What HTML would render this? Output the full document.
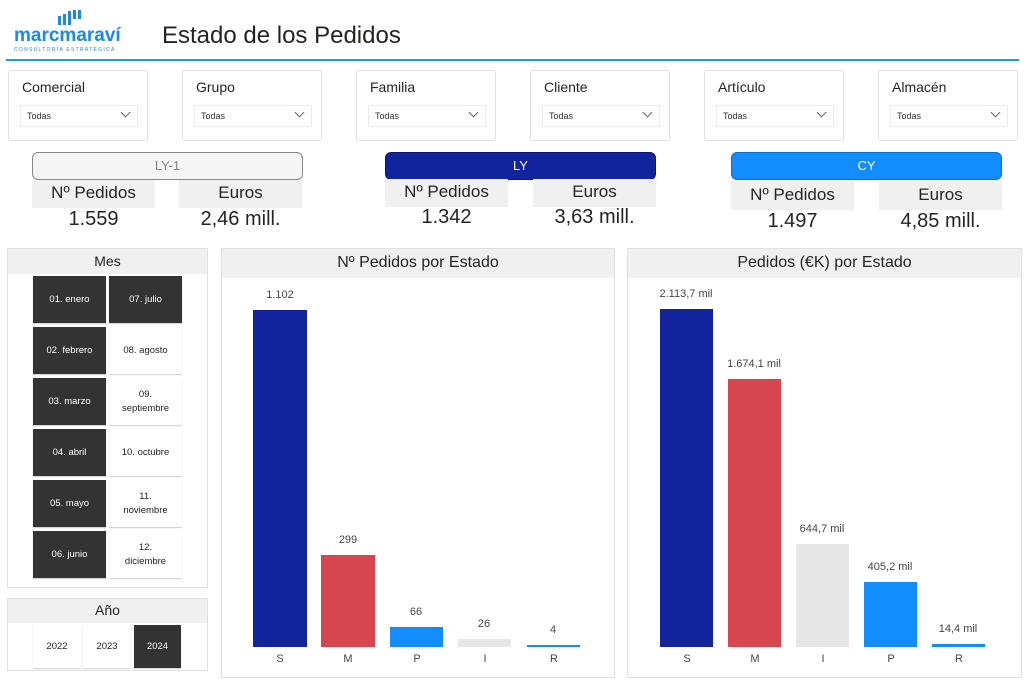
<!DOCTYPE html><html><head><meta charset="utf-8"><style>
*{margin:0;padding:0;box-sizing:border-box}
body{width:1024px;height:680px;background:#fff;position:relative;font-family:"Segoe UI","Liberation Sans","DejaVu Sans",sans-serif;color:#252423;overflow:hidden}
.a{position:absolute}
.sl{position:absolute;top:70px;width:140px;height:71px;border:1px solid #e0e0e0;border-radius:3px}
.sl .t{position:absolute;left:13px;top:8px;font-size:14px}
.sl .d{position:absolute;left:11px;top:34px;width:118px;height:22px;border:1px solid #eaeaea;font-size:9px;padding:5px 6px;color:#333}
.sl .d i{position:absolute;right:8px;top:3px;width:7px;height:7px;border-right:1px solid #666;border-bottom:1px solid #666;transform:rotate(45deg)}
.hd{position:absolute;height:28px;border-radius:6px;text-align:center;font-size:13px;line-height:26px}
.lb{position:absolute;height:28px;background:#f0f0f0;text-align:center;font-size:17px;line-height:26px;width:123px}
.vl{position:absolute;width:123px;text-align:center;font-size:20px}
.pn{position:absolute;border:1px solid #e0e0e0;background:#fff}
.ph{position:absolute;left:0;right:0;top:0;background:#f0f0f0;text-align:center}
.b{position:absolute;width:73px;height:47px;display:flex;align-items:center;justify-content:center;text-align:center;font-size:9.5px;line-height:14px;box-shadow:0 1px 1px #ccc}
.k{background:#333;color:#fff}
.w{background:#fff;color:#222}
.bar{position:absolute;bottom:33px}
.bl{position:absolute;font-size:11px;color:#444;text-align:center;width:80px}
.xl{position:absolute;top:653px;font-size:11px;color:#444;text-align:center;width:54px}
</style></head><body>
<div class="a" style="left:58px;top:10px;width:24px;height:15px">
<div class="a" style="left:0;top:6px;width:3px;height:9px;background:#1e88e5"></div>
<div class="a" style="left:5px;top:4px;width:3px;height:11px;background:#1e88e5"></div>
<div class="a" style="left:10px;top:1px;width:3px;height:14px;background:#1e88e5"></div>
<div class="a" style="left:15px;top:0;width:3px;height:9px;background:#1e88e5"></div>
<div class="a" style="left:20px;top:0;width:3px;height:9px;background:#1e88e5"></div></div>
<div class="a" style="left:14px;top:25px;font-size:19px;font-weight:bold;color:#1e88e5">marcmaraví</div>
<div class="a" style="left:14px;top:47px;font-size:5px;color:#1e88e5;letter-spacing:1.3px">CONSULTORÍA ESTRATÉGICA</div>
<div class="a" style="left:162px;top:22px;font-size:24px;color:#252423">Estado de los Pedidos</div>
<div class="a" style="left:6px;top:59px;width:1013px;height:2px;background:#2196f3"></div>

<div class="sl" style="left:8px"><div class="t">Comercial</div><div class="d">Todas<i></i></div></div>
<div class="sl" style="left:182px"><div class="t">Grupo</div><div class="d">Todas<i></i></div></div>
<div class="sl" style="left:356px"><div class="t">Familia</div><div class="d">Todas<i></i></div></div>
<div class="sl" style="left:530px"><div class="t">Cliente</div><div class="d">Todas<i></i></div></div>
<div class="sl" style="left:704px"><div class="t">Artículo</div><div class="d">Todas<i></i></div></div>
<div class="sl" style="left:878px"><div class="t">Almacén</div><div class="d">Todas<i></i></div></div>

<div class="hd" style="left:32px;top:152px;width:271px;background:#f5f5f5;border:1px solid #888;color:#888">LY-1</div>
<div class="lb" style="left:32px;top:180px">Nº Pedidos</div><div class="lb" style="left:179px;top:180px">Euros</div>
<div class="vl" style="left:32px;top:208px">1.559</div><div class="vl" style="left:179px;top:208px">2,46 mill.</div>

<div class="hd" style="left:385px;top:152px;width:271px;background:#12239e;border:1px solid #0a1670;color:#fff">LY</div>
<div class="lb" style="left:385px;top:179px">Nº Pedidos</div><div class="lb" style="left:533px;top:179px">Euros</div>
<div class="vl" style="left:385px;top:206px">1.342</div><div class="vl" style="left:533px;top:206px">3,63 mill.</div>

<div class="hd" style="left:731px;top:152px;width:271px;background:#118dff;border:1px solid #0a70d0;color:#fff">CY</div>
<div class="lb" style="left:731px;top:181px;height:29px;line-height:28px">Nº Pedidos</div><div class="lb" style="left:879px;top:181px;height:29px;line-height:28px">Euros</div>
<div class="vl" style="left:731px;top:210px">1.497</div><div class="vl" style="left:879px;top:210px">4,85 mill.</div>

<div class="pn" style="left:7px;top:248px;width:201px;height:340px"><div class="ph" style="height:25px;font-size:14px;line-height:24px">Mes</div></div>
<div class="b k" style="left:33px;top:276px">01. enero</div><div class="b k" style="left:109px;top:276px">07. julio</div>
<div class="b k" style="left:33px;top:327px">02. febrero</div><div class="b w" style="left:109px;top:327px">08. agosto</div>
<div class="b k" style="left:33px;top:378px">03. marzo</div><div class="b w" style="left:109px;top:378px">09.<br>septiembre</div>
<div class="b k" style="left:33px;top:429px">04. abril</div><div class="b w" style="left:109px;top:429px">10. octubre</div>
<div class="b k" style="left:33px;top:480px">05. mayo</div><div class="b w" style="left:109px;top:480px">11.<br>noviembre</div>
<div class="b k" style="left:33px;top:531px">06. junio</div><div class="b w" style="left:109px;top:531px">12.<br>diciembre</div>

<div class="pn" style="left:7px;top:598px;width:201px;height:73px"><div class="ph" style="height:24px;font-size:14px;line-height:22px">Año</div></div>
<div class="b w" style="left:33px;top:625px;width:48px;height:43px">2022</div>
<div class="b w" style="left:83px;top:625px;width:48px;height:43px">2023</div>
<div class="b k" style="left:134px;top:625px;width:47px;height:43px">2024</div>

<div class="pn" style="left:221px;top:248px;width:394px;height:430px"><div class="ph" style="height:29px;font-size:16px;line-height:28px">Nº Pedidos por Estado</div></div>
<div class="bar" style="left:253px;width:54px;top:310px;bottom:33px;background:#12239e"></div>
<div class="bar" style="left:321px;width:54px;top:555px;background:#d64550"></div>
<div class="bar" style="left:390px;width:53px;top:627px;background:#118dff"></div>
<div class="bar" style="left:458px;width:53px;top:639px;background:#e6e6e6"></div>
<div class="bar" style="left:527px;width:53px;top:645px;background:#118dff"></div>
<div class="bl" style="left:240px;top:289px">1.102</div>
<div class="bl" style="left:308px;top:534px">299</div>
<div class="bl" style="left:376px;top:606px">66</div>
<div class="bl" style="left:444px;top:618px">26</div>
<div class="bl" style="left:513px;top:624px">4</div>
<div class="xl" style="left:253px">S</div><div class="xl" style="left:321px">M</div><div class="xl" style="left:390px">P</div><div class="xl" style="left:458px">I</div><div class="xl" style="left:527px">R</div>

<div class="pn" style="left:627px;top:248px;width:395px;height:430px"><div class="ph" style="height:29px;font-size:16px;line-height:28px">Pedidos (€K) por Estado</div></div>
<div class="bar" style="left:660px;width:53px;top:309px;background:#12239e"></div>
<div class="bar" style="left:728px;width:53px;top:379px;background:#d64550"></div>
<div class="bar" style="left:796px;width:53px;top:544px;background:#e6e6e6"></div>
<div class="bar" style="left:864px;width:53px;top:582px;background:#118dff"></div>
<div class="bar" style="left:932px;width:53px;top:644px;background:#118dff"></div>
<div class="bl" style="left:646px;top:288px">2.113,7 mil</div>
<div class="bl" style="left:714px;top:358px">1.674,1 mil</div>
<div class="bl" style="left:782px;top:523px">644,7 mil</div>
<div class="bl" style="left:850px;top:561px">405,2 mil</div>
<div class="bl" style="left:918px;top:623px">14,4 mil</div>
<div class="xl" style="left:660px">S</div><div class="xl" style="left:728px">M</div><div class="xl" style="left:796px">I</div><div class="xl" style="left:864px">P</div><div class="xl" style="left:932px">R</div>
</body></html>
